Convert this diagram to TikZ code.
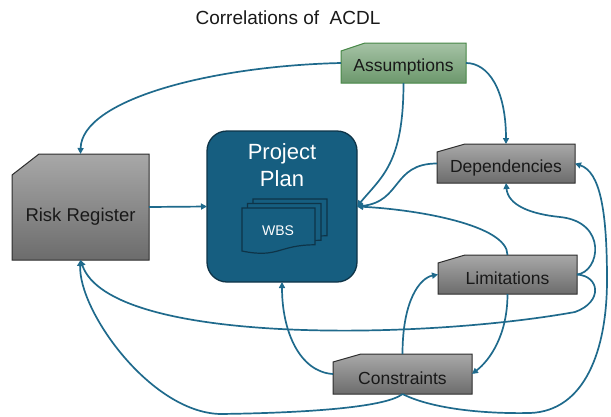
\documentclass[tikz,border=0pt]{standalone}
\usepackage{fontspec}
\setmainfont{Liberation Sans}
\usetikzlibrary{arrows.meta,backgrounds,calc}
\definecolor{linecol}{RGB}{31,106,140}
\definecolor{ppfill}{RGB}{22,94,128}
\definecolor{ppdraw}{RGB}{14,52,72}
\definecolor{graytop}{RGB}{168,168,168}
\definecolor{graybot}{RGB}{108,108,108}
\definecolor{grayedge}{RGB}{45,45,45}
\definecolor{greentop}{RGB}{165,194,165}
\definecolor{greenbot}{RGB}{108,152,108}
\definecolor{greenedge}{RGB}{70,135,70}
\definecolor{txt}{RGB}{25,25,25}
\tikzset{
  arrowline/.style={draw=linecol, line width=1.7pt, -{Triangle[length=6pt,width=6pt]}},
  boxnode/.style={inner sep=0pt, outer sep=0pt},
  boxtext/.style={inner sep=0pt, text=txt, font=\fontsize{17.5}{20}\selectfont},
  graysnip/.style={top color=graytop, bottom color=graybot, draw=grayedge, line width=1pt},
  greensnip/.style={top color=greentop, bottom color=greenbot, draw=greenedge, line width=1pt},
  docst/.style={fill=ppfill, draw=ppdraw, line width=1.2pt},
}
\newcommand\snipshape[4]{%
  \path[#1] ($(#2.north west)+(#3,0)$) -- (#2.north east) -- (#2.south east) -- (#2.south west) -- ($(#2.north west)+(0,#4)$) -- cycle;}
\newcommand\docshape[3]{% x1, y1, x2 ; height 46
  \path[docst] (#1,#2) -- (#3,#2) -- (#3,{#2+36.8}) .. controls ({(#1+#3)/2},{#2+36.8}) and ({(#1+#3)/2},{#2+50.6}) .. (#1,{#2+43}) -- cycle;}
\begin{document}
\begin{tikzpicture}[x=1pt,y=-1pt]
\useasboundingbox (0,0) rectangle (611,416);

\node[font=\fontsize{19}{22}\selectfont, text=txt] (title) at (288,18) {Correlations of\ \ ACDL};

% nodes
\node[boxnode, minimum width=137pt, minimum height=106pt] (risk) at (80.5,207) {};
\node[boxnode, minimum width=125pt, minimum height=40pt] (asm) at (403.5,63) {};
\node[boxnode, minimum width=138pt, minimum height=39pt] (dep) at (506,163.5) {};
\node[boxnode, minimum width=139pt, minimum height=39pt] (lim) at (507.5,274.5) {};
\node[boxnode, minimum width=139pt, minimum height=40pt] (con) at (402.5,374) {};

\begin{pgfonlayer}{background}
  \snipshape{graysnip}{risk}{27}{21}
  \snipshape{greensnip}{asm}{24}{8}
  \snipshape{graysnip}{dep}{28}{8}
  \snipshape{graysnip}{lim}{27}{8}
  \snipshape{graysnip}{con}{28}{8}
\end{pgfonlayer}

\node[boxtext, font=\fontsize{18.5}{21}\selectfont] (risktext) at ($(risk.center)+(0,10)$) {Risk Register};
\node[boxtext] (asmtext) at ($(asm.center)+(0,4)$) {Assumptions};
\node[boxtext] (deptext) at ($(dep.center)+(0,4)$) {Dependencies};
\node[boxtext] (limtext) at ($(lim.center)+(0,4)$) {Limitations};
\node[boxtext] (context) at ($(con.center)+(0,4)$) {Constraints};

% project plan
\node[draw=ppdraw, fill=ppfill, line width=1.3pt, rounded corners=20pt, minimum width=150pt, minimum height=151pt, inner sep=0pt, outer sep=0pt] (pp) at (282,206.5) {};
\docshape{253}{199}{327}
\docshape{247.5}{203.5}{321}
\docshape{242}{208}{315}
\node[text=white, font=\fontsize{14}{16}\selectfont] (wbs) at (278,231) {WBS};
\node[text=white, align=center, font=\fontsize{22}{27}\selectfont] (pptext) at (282,165) {Project\\Plan};

% connectors
\draw[arrowline] (risk.east) -- (pp.west);
\draw[arrowline] (asm.west) .. controls +(-131,3) and +(1,-54) .. (risk.north);
\draw[arrowline] (asm.south) .. controls +(0,80) and +(25,-30) .. (pp.east);
\draw[arrowline] (asm.east) .. controls +(22,0) and +(0,-55) .. (dep.north);
\draw[arrowline] (dep.west) .. controls +(-45,0) and +(45,-5) .. (pp.east);
\draw[arrowline] (lim.north) .. controls +(0,-30) and +(60,3) .. (pp.east);
\coordinate (c6) at (560,217);
\draw[arrowline] (lim.east) .. controls (600,272) and (608,222) .. (c6) .. controls (530,214) and (508,205) .. (dep.south);
\coordinate (c7) at (575,312);
\draw[arrowline] (lim.east) .. controls (600,276) and (603,302) .. (c7) .. controls (420,340) and (110,345) .. (risk.south);
\draw[arrowline] (lim.south) .. controls +(0,41) and +(18,-14) .. (con.east);
\draw[arrowline] (con.north) .. controls +(0,-54) and +(-18,3.5) .. (lim.west);
\draw[arrowline] (con.west) .. controls +(-33,-2) and +(0,50) .. (pp.south);
\coordinate (c11) at (220,414);
\draw[arrowline] (con.south) .. controls (385,408) and (300,413) .. (c11) .. controls (150,412) and (78,310) .. (risk.south);
\coordinate (c12a) at (530,413);
\coordinate (c12b) at (607,280);
\draw[arrowline] (con.south) .. controls (430,408) and (480,414) .. (c12a) .. controls (585,411) and (607,350) .. (c12b) .. controls (607,210) and (600,172) .. (dep.east);
\end{tikzpicture}
\end{document}
